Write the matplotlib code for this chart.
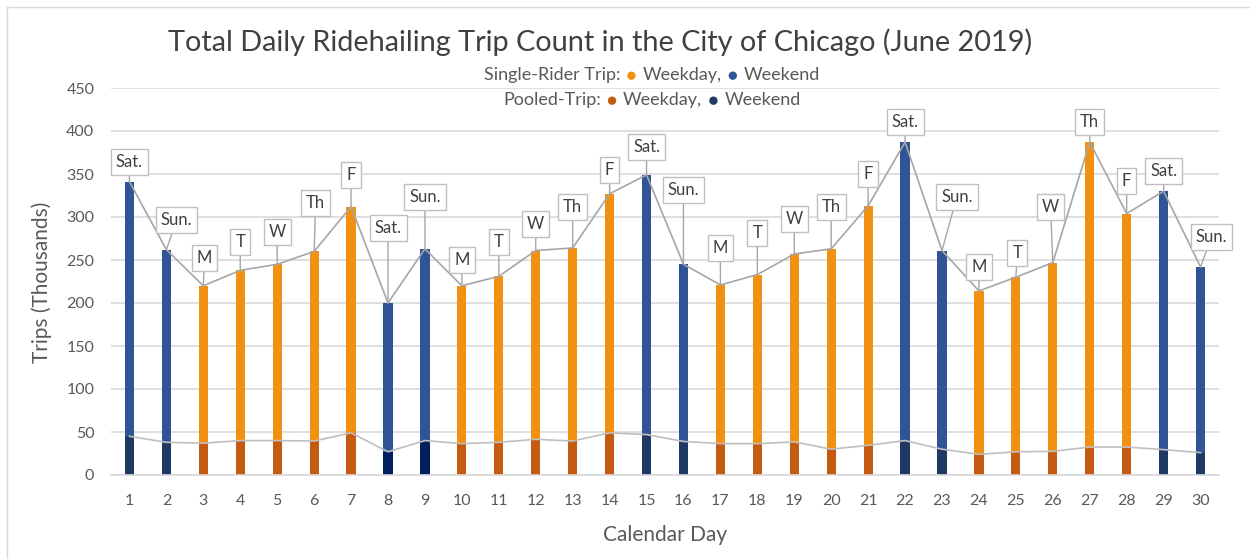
import matplotlib
matplotlib.use("Agg")
import matplotlib.pyplot as plt
from matplotlib.patches import Circle
from matplotlib.offsetbox import TextArea, DrawingArea, HPacker, AnchoredOffsetbox
from matplotlib.lines import Line2D

plt.rcParams['font.family'] = ['Lato', 'DejaVu Sans']

# data (thousands of trips)
days = list(range(1, 31))
total_trips = [341, 262, 220, 238, 245, 260, 312, 200, 263, 220,
               231, 261, 264, 327, 349, 245, 221, 233, 257, 263,
               313, 387, 261, 214, 230, 247, 387, 304, 330, 242]
pooled_trips = [45, 38, 37, 40, 40, 39.5, 49, 27, 40, 36.5,
                38, 41.5, 39.5, 49, 47, 39, 36.5, 36.5, 38.5, 30,
                34.5, 40, 30, 24, 27, 27.5, 32.5, 32.5, 29.5, 26]
day_names = ['Sat.', 'Sun.', 'M', 'T', 'W', 'Th', 'F', 'Sat.', 'Sun.', 'M',
             'T', 'W', 'Th', 'F', 'Sat.', 'Sun.', 'M', 'T', 'W', 'Th',
             'F', 'Sat.', 'Sun.', 'M', 'T', 'W', 'Th', 'F', 'Sat.', 'Sun.']

# where the day-name boxes sit (data coords)
label_xy = [(1, 364), (2.27, 296), (3.03, 252), (4, 271), (5, 282), (6.04, 316),
            (7, 349), (8, 287), (9, 323), (10, 250), (11, 271), (12, 292),
            (13, 312), (14, 355), (15, 381), (16, 331), (17, 264), (18, 281),
            (19, 298), (20, 312), (21, 350), (22, 410), (23.4, 323), (24, 242),
            (25.04, 258), (25.94, 312), (27, 410), (28, 342), (29, 353), (30.3, 277)]

# colours
c_single_wd = '#F29111'
c_single_we = '#2F5597'
c_pool_wd = '#C55A11'
c_pool_we = '#203864'
c_pool_we_dark = '#002060'
grid_c = '#D9D9D9'
text_c = '#595959'

weekend = [n in ('Sat.', 'Sun.') for n in day_names]
single_colors = [c_single_we if w else c_single_wd for w in weekend]
pooled_colors = []
for d, w in zip(days, weekend):
    if not w:
        pooled_colors.append(c_pool_wd)
    elif d in (8, 9):
        pooled_colors.append(c_pool_we_dark)
    else:
        pooled_colors.append(c_pool_we)

fig = plt.figure(figsize=(12.5, 5.59), dpi=100)
ax = fig.add_axes([111 / 1250, 1 - 475 / 559, 1108 / 1250, 387 / 559])

bar_w = 0.25
ax.bar(days, total_trips, width=bar_w, color=single_colors, zorder=2)
ax.bar(days, pooled_trips, width=bar_w, color=pooled_colors, zorder=2.5)
ax.plot(days, total_trips, color='#A6A6A6', lw=1.2, zorder=3)
ax.plot(days, pooled_trips, color='#BFBFBF', lw=1.2, zorder=3)

for d, t, name, (lx, ly) in zip(days, total_trips, day_names, label_xy):
    ax.annotate(name, xy=(d, t), xytext=(lx, ly), ha='center', va='center',
                fontsize=12, color='#404040', zorder=4,
                bbox=dict(boxstyle='square,pad=0.3', fc='white', ec='#BFBFBF', lw=1),
                arrowprops=dict(arrowstyle='-', color='#A6A6A6', lw=1,
                                shrinkA=0, shrinkB=0))

ax.set_xlim(0.5, 30.5)
ax.set_ylim(0, 450)
ax.set_yticks(range(0, 451, 50))
ax.set_xticks(days)
ax.grid(axis='y', color=grid_c, lw=1.2, zorder=0)
ax.set_axisbelow(True)
for s in ['top', 'right', 'left']:
    ax.spines[s].set_visible(False)
ax.spines['bottom'].set_color(grid_c)
ax.spines['bottom'].set_linewidth(1.2)
ax.tick_params(axis='both', length=0, labelsize=11.5, labelcolor=text_c)
ax.tick_params(axis='y', pad=12)
ax.tick_params(axis='x', pad=14)

ax.set_xlabel('Calendar Day', fontsize=15, color=text_c, labelpad=12)
fig.text(42 / 1250, 1 - 282 / 559, 'Trips (Thousands)', rotation=90, fontsize=15,
         color=text_c, ha='center', va='center')
fig.text(600 / 1250, 1 - 42 / 559,
         'Total Daily Ridehailing Trip Count in the City of Chicago (June 2019)',
         fontsize=20.8, color='#404040', ha='center', va='center')


def bullet(color):
    da = DrawingArea(8, 8, 0, 0)
    da.add_artist(Circle((4, 3.5), 3, fc=color, ec='none'))
    return da


def legend_row(head, col_wd, col_we, ypix):
    tp = dict(fontsize=13, color=text_c)
    parts = [TextArea(head, textprops=tp), bullet(col_wd),
             TextArea('Weekday,', textprops=tp), bullet(col_we),
             TextArea('Weekend', textprops=tp)]
    box = HPacker(children=parts, align='center', pad=0, sep=4)
    anc = AnchoredOffsetbox(loc='center', child=box, pad=0, borderpad=0, frameon=False,
                            bbox_to_anchor=(652 / 1250, 1 - ypix / 559),
                            bbox_transform=fig.transFigure)
    fig.add_artist(anc)


legend_row('Single-Rider Trip:', c_single_wd, c_single_we, 75)
legend_row('Pooled-Trip:', c_pool_wd, c_pool_we, 100)

# light frame around the chart area
fig.add_artist(Line2D([7 / 1250, 7 / 1250], [0, 1 - 7 / 559], color='#D9D9D9', lw=1))
fig.add_artist(Line2D([7 / 1250, 1], [1 - 7 / 559, 1 - 7 / 559], color='#D9D9D9', lw=1))

fig.savefig('out.png', dpi=100, facecolor='white')
